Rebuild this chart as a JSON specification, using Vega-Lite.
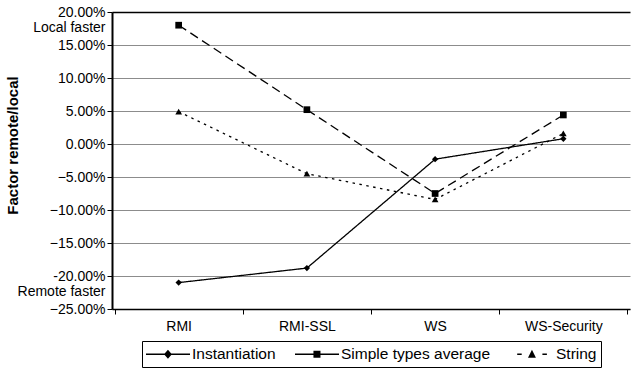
{
  "$schema": "https://vega.github.io/schema/vega-lite/v6.json",
  "autosize": {"type": "none"},
  "padding": {"left": 112, "top": 12, "right": 1, "bottom": 66},
  "width": 518,
  "height": 297,
  "background": "white",
  "config": {
    "font": "Liberation Sans",
    "view": {"stroke": null},
    "axis": {"labelFont": "Liberation Sans", "titleFont": "Liberation Sans", "labelColor": "black", "titleColor": "black"}
  },
  "data": {
    "values": [
      {"cat": "RMI", "series": "Instantiation", "v": -0.210},
      {"cat": "RMI-SSL", "series": "Instantiation", "v": -0.188},
      {"cat": "WS", "series": "Instantiation", "v": -0.023},
      {"cat": "WS-Security", "series": "Instantiation", "v": 0.008},
      {"cat": "RMI", "series": "Simple types average", "v": 0.180},
      {"cat": "RMI-SSL", "series": "Simple types average", "v": 0.052},
      {"cat": "WS", "series": "Simple types average", "v": -0.075},
      {"cat": "WS-Security", "series": "Simple types average", "v": 0.044},
      {"cat": "RMI", "series": "String", "v": 0.049},
      {"cat": "RMI-SSL", "series": "String", "v": -0.045},
      {"cat": "WS", "series": "String", "v": -0.084},
      {"cat": "WS-Security", "series": "String", "v": 0.016}
    ]
  },
  "encoding": {
    "x": {
      "field": "cat", "type": "nominal", "sort": null,
      "scale": {"type": "band", "paddingInner": 0, "paddingOuter": 0.02},
      "axis": {
        "title": null, "labelAngle": 0, "labelFontSize": 14, "labelPadding": 5,
        "domainColor": "black", "domainWidth": 1.5, "tickColor": "black", "tickSize": 5,
        "tickBand": "extent", "grid": false
      }
    },
    "y": {
      "field": "v", "type": "quantitative",
      "scale": {"domain": [-0.25, 0.2], "nice": false, "zero": false},
      "axis": {
        "title": "Factor remote/local", "titleFontSize": 15, "titleFontWeight": "bold",
        "titleX": -92, "titleY": 133,
        "values": [-0.25, -0.2, -0.15, -0.1, -0.05, 0, 0.05, 0.1, 0.15, 0.2],
        "labelExpr": "abs(datum.value - 0.2) < 1e-6 ? ['20.00%', 'Local faster'] : abs(datum.value + 0.2) < 1e-6 ? ['-20.00%', 'Remote faster'] : format(datum.value, '.2%')",
        "labelFontSize": 14, "labelLineHeight": 15, "labelPadding": 2,
        "labelBaseline": {"condition": {"test": "abs(abs(datum.value) - 0.2) < 1e-6", "value": "top"}, "value": "middle"},
        "labelOffset": {"condition": {"test": "abs(abs(datum.value) - 0.2) < 1e-6", "value": -7}, "value": 0},
        "domainColor": "black", "domainWidth": 2, "tickColor": "black", "tickSize": 5,
        "grid": true,
        "gridColor": {"condition": {"test": "abs(datum.value - 0.2) < 1e-6", "value": "black"}, "value": "#8c8c8c"},
        "gridWidth": {"condition": {"test": "abs(datum.value - 0.2) < 1e-6", "value": 1.5}, "value": 1}
      }
    }
  },
  "layer": [
    {
      "mark": {"type": "line", "color": "black", "strokeWidth": 1.3},
      "encoding": {
        "strokeDash": {
          "field": "series", "type": "nominal",
          "scale": {"domain": ["Instantiation", "Simple types average", "String"], "range": [[1, 0], [9, 5], [2.5, 4.5]]},
          "legend": {
            "title": null, "orient": "none", "legendX": 30, "legendY": 329,
            "direction": "horizontal", "strokeColor": "black", "padding": 4,
            "labelFontSize": 15.5, "labelColor": "black", "labelFont": "Liberation Sans",
            "symbolSize": 324, "columnPadding": 19, "labelOffset": 28,
            "symbolFillColor": "black", "symbolStrokeColor": "black", "symbolStrokeWidth": 0, "symbolDash": [1, 0],
            "encode": {
              "symbols": {
                "update": {
                  "shape": {"signal": "datum.value === 'Instantiation' ? 'M-1,-0.07H3.89V0.07H-1Z M1.44,-0.5L1.88,0L1.44,0.5L1.0,0Z' : datum.value === 'Simple types average' ? 'M-1,-0.07H3.89V0.07H-1Z M1.05,-0.39H1.83V0.39H1.05Z' : 'M-0.2,-0.07H0.3V0.07H-0.2Z M2.6,-0.07H3.1V0.07H2.6Z M1.44,-0.5L1.88,0.39H1.0Z'"},
                  "size": {"value": 324},
                  "fill": {"value": "black"},
                  "fillOpacity": {"value": 1},
                  "strokeWidth": {"value": 0},
                  "opacity": {"value": 1}
                }
              }
            }
          }
        }
      }
    },
    {
      "transform": [{"filter": "datum.series === 'Instantiation'"}],
      "mark": {"type": "point", "filled": true, "color": "black", "opacity": 1, "size": 40, "shape": "diamond"}
    },
    {
      "transform": [{"filter": "datum.series === 'Simple types average'"}],
      "mark": {"type": "point", "filled": true, "color": "black", "opacity": 1, "size": 45, "shape": "square"}
    },
    {
      "transform": [{"filter": "datum.series === 'String'"}],
      "mark": {"type": "point", "filled": true, "color": "black", "opacity": 1, "size": 45, "shape": "triangle-up"}
    }
  ]
}
